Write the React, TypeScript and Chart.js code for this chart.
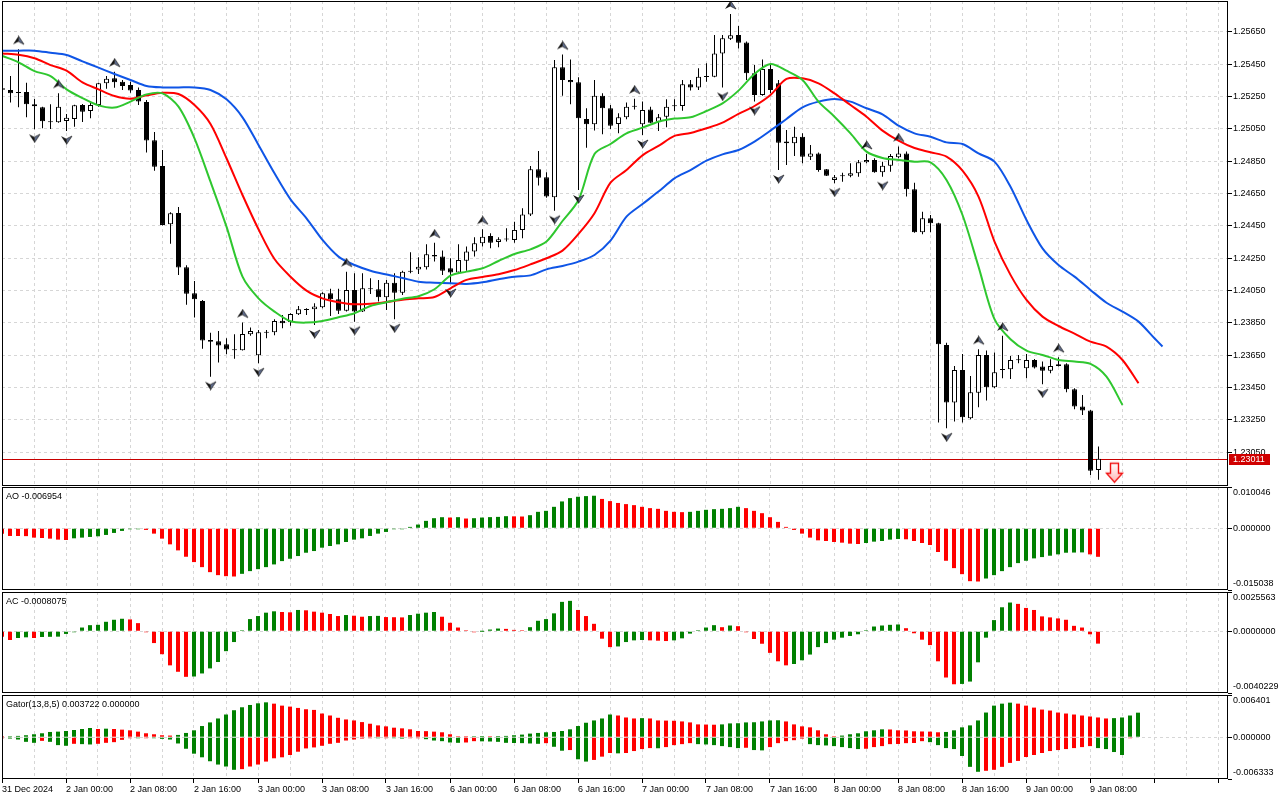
import React, { useEffect, useRef } from 'react';
import { Chart, registerables } from 'chart.js';

Chart.register(...registerables);

// ---------------- data ----------------
const X_LABELS = ['31 Dec 2024', '2 Jan 00:00', '2 Jan 08:00', '2 Jan 16:00', '3 Jan 00:00', '3 Jan 08:00', '3 Jan 16:00', '6 Jan 00:00', '6 Jan 08:00', '6 Jan 16:00', '7 Jan 00:00', '7 Jan 08:00', '7 Jan 16:00', '8 Jan 00:00', '8 Jan 08:00', '8 Jan 16:00', '9 Jan 00:00', '9 Jan 08:00'];
const LABEL_STEP = 8; // bars per time label
const GRID_STEP = 4; // bars per vertical grid line

const OPEN = [
  1.25300, 1.25290, 1.25277, 1.25277, 1.25201, 1.25183, 1.25096, 1.25090, 1.25098, 1.25111,
  1.25197, 1.25160, 1.25197, 1.25331, 1.25362, 1.25341, 1.25321, 1.25290, 1.25216, 1.24979,
  1.24820, 1.24460, 1.24530, 1.24194, 1.24033, 1.23986, 1.23745, 1.23737, 1.23718, 1.23687,
  1.23681, 1.23780, 1.23650, 1.23790, 1.23792, 1.23864, 1.23854, 1.23903, 1.23930, 1.23934,
  1.23947, 1.24033, 1.23996, 1.23926, 1.24054, 1.23920, 1.24064, 1.24058, 1.24009, 1.24099,
  1.24037, 1.24173, 1.24181, 1.24194, 1.24270, 1.24260, 1.24188, 1.24161, 1.24235, 1.24291,
  1.24342, 1.24388, 1.24350, 1.24367, 1.24363, 1.24425, 1.24521, 1.24800, 1.24750, 1.24627,
  1.25430, 1.25352, 1.25337, 1.25111, 1.25078, 1.25255, 1.25177, 1.25080, 1.25121, 1.25193,
  1.25078, 1.25170, 1.25094, 1.25125, 1.25195, 1.25191, 1.25325, 1.25306, 1.25370, 1.25372,
  1.25516, 1.25607, 1.25630, 1.25584, 1.25393, 1.25259, 1.25420, 1.25331, 1.24971, 1.24960,
  1.25001, 1.24878, 1.24898, 1.24800, 1.24734, 1.24760, 1.24760, 1.24775, 1.24843, 1.24857,
  1.24781, 1.24822, 1.24874, 1.24898, 1.24676, 1.24410, 1.24497, 1.24466, 1.23714, 1.23358,
  1.23559, 1.23261, 1.23419, 1.23652, 1.23452, 1.23566, 1.23564, 1.23621, 1.23570, 1.23621,
  1.23580, 1.23555, 1.23584, 1.23594, 1.23440, 1.23333, 1.23308, 1.22941,
];
const HIGH = [
  1.25315, 1.25376, 1.25541, 1.25335, 1.25234, 1.25187, 1.25201, 1.25269, 1.25142, 1.25199,
  1.25203, 1.25218, 1.25335, 1.25376, 1.25403, 1.25352, 1.25341, 1.25306, 1.25228, 1.25030,
  1.24919, 1.24534, 1.24567, 1.24206, 1.24109, 1.23992, 1.23790, 1.23800, 1.23755, 1.23780,
  1.23852, 1.23821, 1.23807, 1.23807, 1.23873, 1.23899, 1.23910, 1.23955, 1.23940, 1.23971,
  1.24039, 1.24062, 1.24062, 1.24167, 1.24157, 1.24157, 1.24126, 1.24116, 1.24116, 1.24157,
  1.24173, 1.24287, 1.24256, 1.24336, 1.24346, 1.24297, 1.24250, 1.24336, 1.24322, 1.24379,
  1.24429, 1.24404, 1.24379, 1.24435, 1.24476, 1.24559, 1.24820, 1.24913, 1.24781, 1.25475,
  1.25510, 1.25479, 1.25368, 1.25177, 1.25352, 1.25269, 1.25197, 1.25146, 1.25212, 1.25236,
  1.25218, 1.25187, 1.25142, 1.25232, 1.25232, 1.25352, 1.25352, 1.25424, 1.25455, 1.25630,
  1.25630, 1.25760, 1.25685, 1.25589, 1.25444, 1.25479, 1.25444, 1.25352, 1.25043, 1.25063,
  1.25022, 1.24950, 1.24903, 1.24802, 1.24765, 1.24779, 1.24837, 1.24857, 1.24894, 1.24868,
  1.24847, 1.24894, 1.24940, 1.24909, 1.24717, 1.24538, 1.24517, 1.24470, 1.23728, 1.23584,
  1.23658, 1.23522, 1.23687, 1.23679, 1.23667, 1.23770, 1.23646, 1.23652, 1.23658, 1.23627,
  1.23611, 1.23625, 1.23638, 1.23601, 1.23446, 1.23405, 1.23312, 1.23086,
];
const LOW = [
  1.25280, 1.25212, 1.25183, 1.25121, 1.25047, 1.25053, 1.25049, 1.25088, 1.25036, 1.25063,
  1.25092, 1.25115, 1.25187, 1.25298, 1.25304, 1.25290, 1.25273, 1.25197, 1.24903, 1.24791,
  1.24453, 1.24340, 1.24147, 1.23963, 1.23883, 1.23691, 1.23518, 1.23605, 1.23656, 1.23629,
  1.23679, 1.23770, 1.23601, 1.23755, 1.23774, 1.23817, 1.23833, 1.23899, 1.23899, 1.23837,
  1.23940, 1.23893, 1.23905, 1.23920, 1.23858, 1.23918, 1.24029, 1.23982, 1.23930, 1.23873,
  1.24023, 1.24157, 1.24153, 1.24181, 1.24229, 1.24147, 1.24091, 1.24153, 1.24173, 1.24260,
  1.24322, 1.24311, 1.24318, 1.24353, 1.24346, 1.24373, 1.24511, 1.24699, 1.24624, 1.24544,
  1.25255, 1.25201, 1.24672, 1.24933, 1.25039, 1.25016, 1.25049, 1.25022, 1.25109, 1.25170,
  1.25012, 1.25084, 1.25036, 1.25059, 1.25160, 1.25162, 1.25286, 1.25290, 1.25341, 1.25368,
  1.25306, 1.25599, 1.25547, 1.25352, 1.25218, 1.25255, 1.25269, 1.24795, 1.24826, 1.24882,
  1.24837, 1.24857, 1.24785, 1.24758, 1.24713, 1.24723, 1.24750, 1.24754, 1.24837, 1.24779,
  1.24754, 1.24785, 1.24868, 1.24631, 1.24408, 1.24398, 1.24410, 1.23234, 1.23199, 1.23240,
  1.23234, 1.23254, 1.23329, 1.23370, 1.23446, 1.23508, 1.23504, 1.23601, 1.23508, 1.23568,
  1.23471, 1.23539, 1.23580, 1.23421, 1.23316, 1.23281, 1.22910, 1.22880,
];
const CLOSE = [
  1.25292, 1.25269, 1.25271, 1.25201, 1.25189, 1.25096, 1.25090, 1.25187, 1.25119, 1.25195,
  1.25156, 1.25197, 1.25331, 1.25360, 1.25337, 1.25315, 1.25286, 1.25218, 1.24977, 1.24816,
  1.24456, 1.24528, 1.24192, 1.24031, 1.23996, 1.23741, 1.23734, 1.23710, 1.23685, 1.23681,
  1.23782, 1.23800, 1.23792, 1.23794, 1.23862, 1.23848, 1.23905, 1.23934, 1.23934, 1.23951,
  1.24033, 1.23996, 1.23926, 1.24054, 1.23920, 1.24064, 1.24058, 1.24009, 1.24099, 1.24037,
  1.24167, 1.24167, 1.24198, 1.24274, 1.24260, 1.24173, 1.24161, 1.24239, 1.24291, 1.24342,
  1.24383, 1.24346, 1.24367, 1.24365, 1.24425, 1.24521, 1.24800, 1.24748, 1.24631, 1.25430,
  1.25352, 1.25337, 1.25115, 1.25078, 1.25255, 1.25177, 1.25069, 1.25121, 1.25187, 1.25187,
  1.25166, 1.25088, 1.25121, 1.25187, 1.25189, 1.25325, 1.25306, 1.25372, 1.25374, 1.25516,
  1.25609, 1.25628, 1.25582, 1.25393, 1.25259, 1.25420, 1.25290, 1.24964, 1.24960, 1.25001,
  1.24878, 1.24898, 1.24795, 1.24760, 1.24750, 1.24756, 1.24775, 1.24843, 1.24857, 1.24781,
  1.24822, 1.24882, 1.24898, 1.24676, 1.24410, 1.24497, 1.24466, 1.23718, 1.23358, 1.23559,
  1.23267, 1.23421, 1.23652, 1.23452, 1.23545, 1.23559, 1.23621, 1.23619, 1.23621, 1.23574,
  1.23555, 1.23584, 1.23594, 1.23440, 1.23333, 1.23308, 1.22937, 1.23011,
];

const FRACTAL_UP = [2, 7, 14, 30, 43, 54, 60, 70, 79, 91, 108, 112, 122, 125, 132];
const FRACTAL_DOWN = [4, 8, 26, 32, 39, 44, 49, 56, 69, 72, 80, 90, 94, 97, 104, 110, 118, 130];

// Alligator lines: [bar index, price]
const JAW: [number, number][] = [
  [0, 1.25533], [2, 1.25533], [4, 1.25533], [6, 1.25520], [8, 1.25506], [10, 1.25467], [12, 1.25428], [14, 1.25389],
  [16, 1.25352], [18, 1.25315], [20, 1.25306], [22, 1.25306], [24, 1.25306], [26, 1.25290], [28, 1.25232], [30, 1.25121],
  [32, 1.24950], [34, 1.24775], [36, 1.24614], [38, 1.24497], [40, 1.24363], [42, 1.24260], [44, 1.24208], [46, 1.24173],
  [48, 1.24149], [50, 1.24128], [52, 1.24105], [54, 1.24099], [56, 1.24095], [58, 1.24091], [60, 1.24101], [62, 1.24120],
  [64, 1.24136], [66, 1.24144], [68, 1.24181], [70, 1.24202], [72, 1.24229], [74, 1.24270], [76, 1.24359], [78, 1.24507],
  [80, 1.24585], [82, 1.24662], [84, 1.24744], [86, 1.24795], [88, 1.24853], [90, 1.24892], [92, 1.24919], [94, 1.24971],
  [96, 1.25039], [98, 1.25111], [100, 1.25183], [102, 1.25218], [104, 1.25234], [106, 1.25218], [108, 1.25177], [110, 1.25139],
  [112, 1.25069], [114, 1.25022], [116, 1.25001], [118, 1.24966], [120, 1.24956], [122, 1.24898], [124, 1.24847], [126, 1.24692],
  [128, 1.24486], [130, 1.24311], [132, 1.24208], [134, 1.24136], [136, 1.24054], [138, 1.23975], [140, 1.23920], [142, 1.23858],
  [144, 1.23755], [145, 1.23704],
];
const TEETH: [number, number][] = [
  [0, 1.25516], [2, 1.25508], [4, 1.25486], [6, 1.25444], [8, 1.25409], [10, 1.25337], [12, 1.25294], [14, 1.25253],
  [16, 1.25236], [18, 1.25257], [20, 1.25273], [22, 1.25265], [24, 1.25197], [26, 1.25080], [28, 1.24868], [30, 1.24641],
  [32, 1.24429], [34, 1.24245], [36, 1.24136], [38, 1.24050], [40, 1.24002], [42, 1.23978], [44, 1.23965], [46, 1.23969],
  [48, 1.23980], [50, 1.23994], [52, 1.24002], [54, 1.24010], [56, 1.24064], [58, 1.24116], [60, 1.24134], [62, 1.24151],
  [64, 1.24177], [66, 1.24212], [68, 1.24250], [70, 1.24297], [72, 1.24400], [74, 1.24528], [76, 1.24717], [78, 1.24795],
  [80, 1.24886], [82, 1.24944], [84, 1.25006], [86, 1.25024], [88, 1.25053], [90, 1.25088], [92, 1.25142], [94, 1.25191],
  [96, 1.25259], [98, 1.25358], [100, 1.25362], [102, 1.25331], [104, 1.25269], [106, 1.25197], [108, 1.25125], [110, 1.25039],
  [112, 1.24977], [114, 1.24931], [116, 1.24905], [118, 1.24878], [120, 1.24791], [122, 1.24631], [124, 1.24353], [126, 1.24147],
  [128, 1.23992], [130, 1.23889], [132, 1.23831], [134, 1.23784], [136, 1.23734], [138, 1.23704], [140, 1.23621], [142, 1.23477],
];
const LIPS: [number, number][] = [
  [0, 1.25500], [2, 1.25461], [4, 1.25407], [6, 1.25376], [8, 1.25294], [10, 1.25240], [12, 1.25195], [14, 1.25181],
  [16, 1.25218], [18, 1.25263], [20, 1.25269], [22, 1.25187], [24, 1.24991], [26, 1.24723], [28, 1.24445], [30, 1.24136],
  [32, 1.24002], [34, 1.23920], [36, 1.23860], [38, 1.23852], [40, 1.23862], [42, 1.23885], [44, 1.23910], [46, 1.23955],
  [48, 1.23978], [50, 1.24000], [52, 1.24015], [54, 1.24058], [56, 1.24142], [58, 1.24167], [60, 1.24188], [62, 1.24233],
  [64, 1.24276], [66, 1.24305], [68, 1.24353], [70, 1.24480], [72, 1.24610], [74, 1.24894], [76, 1.24956], [78, 1.25022],
  [80, 1.25057], [82, 1.25094], [84, 1.25113], [86, 1.25121], [88, 1.25160], [90, 1.25207], [92, 1.25286], [94, 1.25389],
  [96, 1.25450], [98, 1.25409], [100, 1.25352], [102, 1.25218], [104, 1.25125], [106, 1.25022], [108, 1.24909], [110, 1.24870],
  [112, 1.24857], [114, 1.24847], [116, 1.24843], [118, 1.24734], [120, 1.24517], [122, 1.24198], [124, 1.23873], [126, 1.23749],
  [128, 1.23679], [130, 1.23652], [132, 1.23621], [134, 1.23611], [136, 1.23597], [138, 1.23518], [140, 1.23343],
];

const AO = [
  -0.00131, -0.00188, -0.00189, -0.00192, -0.00228, -0.00237, -0.00253, -0.00277, -0.00286, -0.00245,
  -0.00228, -0.00212, -0.00196, -0.00163, -0.00114, -0.00065, -0.00024, -0.00004, -0.00041, -0.00131,
  -0.00253, -0.00392, -0.00539, -0.00694, -0.00824, -0.00947, -0.01069, -0.01142, -0.01167, -0.01175,
  -0.01110, -0.01044, -0.00996, -0.00947, -0.00881, -0.00800, -0.00743, -0.00677, -0.00596, -0.00555,
  -0.00473, -0.00432, -0.00392, -0.00335, -0.00277, -0.00245, -0.00188, -0.00131, -0.00090, -0.00024,
  -0.00012, 0.00033, 0.00090, 0.00180, 0.00245, 0.00269, 0.00261, 0.00270, 0.00237, 0.00245,
  0.00261, 0.00271, 0.00277, 0.00294, 0.00290, 0.00286, 0.00318, 0.00400, 0.00424, 0.00522,
  0.00653, 0.00734, 0.00767, 0.00783, 0.00792, 0.00714, 0.00661, 0.00616, 0.00588, 0.00563,
  0.00522, 0.00490, 0.00473, 0.00424, 0.00400, 0.00392, 0.00400, 0.00424, 0.00449, 0.00465,
  0.00473, 0.00490, 0.00522, 0.00490, 0.00424, 0.00367, 0.00269, 0.00155, 0.00033, -0.00041,
  -0.00131, -0.00228, -0.00294, -0.00310, -0.00335, -0.00351, -0.00375, -0.00384, -0.00359, -0.00326,
  -0.00310, -0.00277, -0.00261, -0.00269, -0.00310, -0.00359, -0.00408, -0.00579, -0.00792, -0.00971,
  -0.01118, -0.01289, -0.01297, -0.01224, -0.01142, -0.01044, -0.00947, -0.00849, -0.00792, -0.00734,
  -0.00702, -0.00669, -0.00636, -0.00596, -0.00592, -0.00588, -0.00636, -0.006954,
];
const AC = [
  -0.000352, -0.000572, -0.000440, -0.000396, -0.000440, -0.000374, -0.000363, -0.000352, -0.000176, -0.000011,
  0.000242, 0.000396, 0.000418, 0.000616, 0.000748, 0.000814, 0.000770, 0.000528, -0.000022, -0.000770,
  -0.001496, -0.002222, -0.002640, -0.002970, -0.002948, -0.002750, -0.002420, -0.002002, -0.001298, -0.000704,
  0.000022, 0.000792, 0.000990, 0.001210, 0.001298, 0.001254, 0.001232, 0.001386, 0.001364, 0.001276,
  0.001210, 0.001122, 0.000990, 0.001056, 0.001012, 0.000946, 0.000990, 0.001001, 0.000924, 0.000913,
  0.000902, 0.001056, 0.001144, 0.001210, 0.001254, 0.000946, 0.000550, 0.000242, 0.000011, -0.000066,
  0.000000, 0.000110, 0.000176, 0.000154, 0.000088, 0.000022, 0.000264, 0.000682, 0.000792, 0.001166,
  0.001914, 0.001980, 0.001386, 0.000990, 0.000484, -0.000484, -0.001034, -0.000990, -0.000704, -0.000594,
  -0.000572, -0.000594, -0.000616, -0.000638, -0.000594, -0.000462, -0.000154, 0.000066, 0.000242, 0.000396,
  0.000264, 0.000374, 0.000330, -0.000022, -0.000506, -0.000814, -0.001408, -0.001958, -0.002222, -0.002134,
  -0.001892, -0.001518, -0.001034, -0.000770, -0.000550, -0.000418, -0.000308, -0.000198, 0.000022, 0.000308,
  0.000374, 0.000418, 0.000440, 0.000198, -0.000132, -0.000550, -0.000902, -0.001958, -0.003014, -0.003454,
  -0.003432, -0.003278, -0.002024, -0.000418, 0.000726, 0.001562, 0.001870, 0.001782, 0.001518, 0.001386,
  0.000968, 0.000902, 0.000836, 0.000748, 0.000352, 0.000242, -0.000198, -0.0008075,
];
const GATOR_UP = [
  0.000100, 0.000150, 0.000200, 0.000299, 0.000449, 0.000599, 0.000798, 0.000848, 0.000948, 0.001098,
  0.001248, 0.001397, 0.001248, 0.001297, 0.001248, 0.001148, 0.001048, 0.000848, 0.000599, 0.000449,
  0.000299, 0.000250, 0.000349, 0.000649, 0.001048, 0.001697, 0.002246, 0.002844, 0.003443, 0.004092,
  0.004541, 0.004890, 0.005140, 0.005289, 0.005090, 0.004790, 0.004641, 0.004441, 0.004242, 0.004142,
  0.003593, 0.003293, 0.002944, 0.002695, 0.002545, 0.002295, 0.002046, 0.001796, 0.001647, 0.001447,
  0.001347, 0.001198, 0.000948, 0.000923, 0.000848, 0.000749, 0.000449, 0.000150, 0.000050, 0.000150,
  0.000175, 0.000150, 0.000175, 0.000200, 0.000299, 0.000399, 0.000549, 0.000649, 0.000749, 0.000798,
  0.000948, 0.001198, 0.001697, 0.002196, 0.002545, 0.002844, 0.003443, 0.003293, 0.002994, 0.002844,
  0.002894, 0.002844, 0.002545, 0.002520, 0.002495, 0.002395, 0.002246, 0.001946, 0.001921, 0.001896,
  0.001946, 0.002096, 0.002121, 0.002246, 0.002270, 0.002395, 0.002545, 0.002570, 0.002395, 0.001946,
  0.001647, 0.001497, 0.001048, 0.000449, 0.000050, 0.000250, 0.000449, 0.000599, 0.000898, 0.001048,
  0.001198, 0.001173, 0.001048, 0.001023, 0.000898, 0.000873, 0.000848, 0.000749, 0.000798, 0.001048,
  0.001497, 0.001796, 0.002545, 0.003743, 0.004790, 0.005090, 0.005240, 0.005090, 0.004790, 0.004491,
  0.004192, 0.004042, 0.003743, 0.003593, 0.003443, 0.003293, 0.003144, 0.002994, 0.002844, 0.002894,
  0.002994, 0.003293, 0.003722,
];
const GATOR_DOWN: (number | null)[] = [
  -0.000050, -0.000200, -0.000349, -0.000699, -0.000848, -0.000549, -0.000699, -0.001198, -0.001297, -0.000998,
  -0.001048, -0.001098, -0.000998, -0.000848, -0.000749, -0.000399, -0.000100, -0.000150, -0.000100, -0.000150,
  -0.000250, -0.000349, -0.000948, -0.001747, -0.002495, -0.003044, -0.003643, -0.004142, -0.004441, -0.004940,
  -0.004840, -0.004441, -0.004142, -0.003693, -0.003194, -0.003044, -0.002695, -0.002196, -0.001697, -0.001547,
  -0.001297, -0.000998, -0.000848, -0.000499, -0.000349, -0.000200, -0.000050, -0.000100, -0.000050, -0.000100,
  -0.000200, -0.000100, -0.000050, -0.000299, -0.000499, -0.000599, -0.000798, -0.000848, -0.000798, -0.000599,
  -0.000624, -0.000649, -0.000699, -0.000848, -0.000873, -0.000898, -0.000948, -0.000998, -0.000898, -0.001447,
  -0.002046, -0.001946, -0.003343, -0.003693, -0.003443, -0.002944, -0.002395, -0.002445, -0.002395, -0.002096,
  -0.001796, -0.001647, -0.001672, -0.001497, -0.001198, -0.001048, -0.000898, -0.001048, -0.001098, -0.001198,
  -0.001347, -0.001497, -0.001647, -0.001597, -0.001946, -0.001996, -0.001497, -0.000898, -0.000599, -0.000449,
  -0.000200, -0.001048, -0.001198, -0.001248, -0.001347, -0.001497, -0.001647, -0.001796, -0.001747, -0.001497,
  -0.001347, -0.001048, -0.001023, -0.000898, -0.000873, -0.000599, -0.000749, -0.001198, -0.001647, -0.001796,
  -0.002844, -0.004491, -0.005240, -0.005090, -0.004940, -0.004491, -0.003892, -0.003593, -0.002994, -0.002695,
  -0.002395, -0.002096, -0.001946, -0.001796, -0.001647, -0.001497, -0.001347, -0.001647, -0.001796, -0.002245,
  -0.002695, -0.000100, null,
];

const PRICE_TICKS = [1.2305, 1.2325, 1.2345, 1.2365, 1.2385, 1.2405, 1.2425, 1.2445, 1.2465, 1.2485, 1.2505, 1.2525, 1.2545, 1.2565];
const PRICE_MIN = 1.22842;
const PRICE_MAX = 1.2584;
const LAST_PRICE = 1.23011;
const SELL_SIGNAL = { index: 139, price: 1.22986 };
const AO_RANGE = [-0.015038, 0.010046];
const AC_RANGE = [-0.0040229, 0.0025563];
const GATOR_RANGE = [-0.006333, 0.006401];
const GATOR_PARAMS = '13,8,5';

// ---------------- styling ----------------
const FONT = "'Liberation Sans', Arial, sans-serif";
const GRID = '#d6d6d6';
const UP = '#008000';
const DOWN = '#ff0000';
const AXIS_W = 52;
const X_AXIS_H = 21;

function fractalCanvas(up: boolean) {
  const c = document.createElement('canvas');
  c.width = 13;
  c.height = 28;
  const ctx = c.getContext('2d')!;
  const tipY = up ? 0.7 : 27.3;
  const wingY = up ? 9 : 19;
  const notchY = up ? 6.2 : 21.8;
  ctx.beginPath();
  ctx.moveTo(6.5, tipY);
  ctx.lineTo(1, wingY);
  ctx.lineTo(6.5, notchY);
  ctx.closePath();
  ctx.fillStyle = '#151515';
  ctx.fill();
  ctx.beginPath();
  ctx.moveTo(6.5, tipY);
  ctx.lineTo(12, wingY);
  ctx.lineTo(6.5, notchY);
  ctx.closePath();
  ctx.fillStyle = '#5d6b8e';
  ctx.fill();
  ctx.strokeStyle = '#2a2a2a';
  ctx.lineWidth = 0.8;
  ctx.stroke();
  return c;
}

function sellArrowCanvas() {
  const c = document.createElement('canvas');
  c.width = 19;
  c.height = 42;
  const ctx = c.getContext('2d')!;
  const top = 21;
  ctx.beginPath();
  ctx.moveTo(5.5, top + 0.5);
  ctx.lineTo(13.5, top + 0.5);
  ctx.lineTo(13.5, top + 10.5);
  ctx.lineTo(17.5, top + 10.5);
  ctx.lineTo(9.5, top + 19.5);
  ctx.lineTo(1.5, top + 10.5);
  ctx.lineTo(5.5, top + 10.5);
  ctx.closePath();
  const g = ctx.createLinearGradient(0, top, 0, top + 20);
  g.addColorStop(0, '#ffffff');
  g.addColorStop(1, '#ffb4b4');
  ctx.fillStyle = g;
  ctx.fill();
  ctx.strokeStyle = '#f01010';
  ctx.lineWidth = 1.4;
  ctx.stroke();
  return c;
}

function makeX(min: number, max: number, withLabels: boolean) {
  return {
    type: 'linear',
    min,
    max,
    offset: false,
    display: true,
    afterBuildTicks: (s: any) => {
      const t: any[] = [];
      for (let v = 0; v <= max; v += GRID_STEP) t.push({ value: v });
      s.ticks = t;
    },
    afterFit: (s: any) => {
      s.height = withLabels ? X_AXIS_H : 0;
      s.paddingLeft = 0;
      s.paddingRight = 0;
    },
    grid: {
      display: true,
      offset: false,
      color: GRID,
      lineWidth: 1,
      drawTicks: withLabels,
      tickLength: 4,
      tickWidth: 1,
      tickColor: (c: any) => (c.tick && c.tick.value % LABEL_STEP === 0 ? '#000' : 'rgba(0,0,0,0)'),
    },
    border: { display: false, dash: [3, 3] },
    ticks: {
      display: withLabels,
      autoSkip: false,
      maxRotation: 0,
      minRotation: 0,
      align: 'start',
      padding: 1,
      color: '#000',
      font: { family: FONT, size: 9 },
      callback: (v: any) => (v % LABEL_STEP === 0 ? X_LABELS[v / LABEL_STEP] || '' : ''),
    },
  };
}

function makeIndicatorY(min: number, max: number) {
  return {
    type: 'linear',
    position: 'right',
    min,
    max,
    beginAtZero: false,
    afterBuildTicks: (s: any) => {
      s.ticks = [{ value: min }, { value: 0 }, { value: max }];
    },
    afterFit: (s: any) => {
      s.width = AXIS_W;
      s.paddingTop = 0;
      s.paddingBottom = 0;
    },
    grid: {
      color: (c: any) => (c.tick && c.tick.value === 0 ? GRID : 'rgba(0,0,0,0)'),
      drawTicks: true,
      tickLength: 4,
      tickColor: '#000',
    },
    border: { display: false, dash: [3, 3] },
    ticks: { display: false, autoSkip: false },
  };
}

const framePlugin = {
  id: 'paneFrame',
  afterDraw(chart: any) {
    const { ctx, chartArea: a } = chart;
    ctx.save();
    ctx.strokeStyle = '#000';
    ctx.lineWidth = 1;
    ctx.strokeRect(a.left + 0.5, a.top + 0.5, a.right - a.left - 1, a.bottom - a.top - 1);
    ctx.restore();
  },
};

function indicatorLabels(title: string, decimals: number) {
  return {
    id: 'indicatorLabels',
    afterDraw(chart: any) {
      const { ctx, chartArea: a } = chart;
      const y = chart.scales.y;
      ctx.save();
      ctx.font = `9px ${FONT}`;
      ctx.fillStyle = '#000';
      ctx.textAlign = 'left';
      ctx.textBaseline = 'middle';
      ctx.fillText(title, a.left + 4, a.top + 9.5);
      const x = a.right + 5;
      ctx.fillText(y.max.toFixed(decimals), x, a.top + 6);
      ctx.fillText((0).toFixed(decimals), x, y.getPixelForValue(0));
      ctx.fillText(y.min.toFixed(decimals), x, a.bottom - 6.5);
      ctx.restore();
    },
  };
}

const priceLinePlugin = {
  id: 'priceLine',
  beforeDatasetsDraw(chart: any) {
    const { ctx, chartArea: a } = chart;
    const y = Math.round(chart.scales.y.getPixelForValue(LAST_PRICE)) + 0.5;
    ctx.save();
    ctx.strokeStyle = '#c80000';
    ctx.lineWidth = 1;
    ctx.beginPath();
    ctx.moveTo(a.left, y);
    ctx.lineTo(a.right, y);
    ctx.stroke();
    ctx.restore();
  },
  afterDraw(chart: any) {
    const { ctx, chartArea: a } = chart;
    const y = Math.round(chart.scales.y.getPixelForValue(LAST_PRICE));
    ctx.save();
    ctx.fillStyle = '#d00000';
    ctx.fillRect(a.right + 1, y - 5, 41, 11);
    ctx.font = `9px ${FONT}`;
    ctx.fillStyle = '#fff';
    ctx.textAlign = 'left';
    ctx.textBaseline = 'middle';
    ctx.fillText(LAST_PRICE.toFixed(5), a.right + 5, y + 0.5);
    ctx.restore();
  },
};

const baseOptions = (padding: any) => ({
  responsive: true,
  maintainAspectRatio: false,
  animation: false,
  events: [],
  layout: { padding, autoPadding: false },
  plugins: { legend: { display: false }, tooltip: { enabled: false }, title: { display: false } },
});

function histColors(values: (number | null)[], magnitude: boolean) {
  return values.map((v, i) => {
    const p = i > 0 ? values[i - 1] : null;
    if (v == null || p == null) return DOWN;
    return (magnitude ? Math.abs(v) > Math.abs(p) : v > p) ? UP : DOWN;
  });
}

function histDataset(values: (number | null)[], magnitude: boolean) {
  return {
    type: 'bar',
    data: values.map((v, i) => ({ x: i, y: v })),
    backgroundColor: histColors(values, magnitude),
    barThickness: 4,
    grouped: false,
    minBarLength: 1,
    inflateAmount: 0,
    borderWidth: 0,
  };
}

function mainConfig(): any {
  const bodyColors = OPEN.map((o, i) => {
    const c = CLOSE[i];
    if (Math.abs(c - o) < 0.00006) return '#000';
    return c > o ? '#fff' : '#000';
  });
  const line = (pts: [number, number][], color: string) => ({
    type: 'line',
    data: pts.map(([x, y]) => ({ x, y })),
    borderColor: color,
    borderWidth: 2,
    pointRadius: 0,
    tension: 0.3,
    fill: false,
  });
  return {
    type: 'bar',
    data: {
      datasets: [
        {
          type: 'line',
          data: FRACTAL_UP.map((i) => ({ x: i, y: HIGH[i] })),
          showLine: false,
          pointStyle: fractalCanvas(true),
          pointRadius: 6,
        },
        {
          type: 'line',
          data: FRACTAL_DOWN.map((i) => ({ x: i, y: LOW[i] })),
          showLine: false,
          pointStyle: fractalCanvas(false),
          pointRadius: 6,
        },
        {
          type: 'line',
          data: [{ x: SELL_SIGNAL.index, y: SELL_SIGNAL.price }],
          showLine: false,
          pointStyle: sellArrowCanvas(),
          pointRadius: 8,
        },
        line(LIPS, '#2fc72f'),
        line(TEETH, '#ff0000'),
        line(JAW, '#0f55e6'),
        {
          type: 'bar',
          data: OPEN.map((o, i) => ({ x: i, y: [o, CLOSE[i]] })),
          backgroundColor: bodyColors,
          borderColor: '#000',
          borderWidth: 1,
          borderSkipped: false,
          barThickness: 5,
          grouped: false,
          minBarLength: 1,
          inflateAmount: 0,
        },
        {
          type: 'bar',
          data: LOW.map((l, i) => ({ x: i, y: [l, HIGH[i]] })),
          backgroundColor: '#000',
          barThickness: 1,
          grouped: false,
          inflateAmount: 0,
          borderWidth: 0,
        },
      ],
    },
    options: {
      ...baseOptions({ left: 2, right: 0, top: 1, bottom: 1 }),
      scales: {
        x: makeX(-0.0625, 153.1875, false),
        y: {
          type: 'linear',
          position: 'right',
          min: PRICE_MIN,
          max: PRICE_MAX,
          beginAtZero: false,
          afterBuildTicks: (s: any) => {
            s.ticks = PRICE_TICKS.map((v) => ({ value: v }));
          },
          afterFit: (s: any) => {
            s.width = AXIS_W;
            s.paddingTop = 0;
            s.paddingBottom = 0;
          },
          grid: { color: GRID, drawTicks: true, tickLength: 4, tickColor: '#000' },
          border: { display: false, dash: [3, 3] },
          ticks: {
            autoSkip: false,
            padding: 1,
            color: '#000',
            font: { family: FONT, size: 9 },
            callback: (v: any) => Number(v).toFixed(5),
          },
        },
      },
    },
    plugins: [priceLinePlugin, framePlugin],
  };
}

function indicatorConfig(
  datasets: any[],
  range: number[],
  title: string,
  decimals: number,
  padding: any,
  withLabels: boolean
): any {
  return {
    type: 'bar',
    data: { datasets },
    options: {
      ...baseOptions(padding),
      scales: {
        x: makeX(0, 153.25, withLabels),
        y: makeIndicatorY(range[0], range[1]),
      },
    },
    plugins: [framePlugin, indicatorLabels(title, decimals)],
  };
}

export default function App() {
  const mainRef = useRef<HTMLCanvasElement | null>(null);
  const aoRef = useRef<HTMLCanvasElement | null>(null);
  const acRef = useRef<HTMLCanvasElement | null>(null);
  const gatorRef = useRef<HTMLCanvasElement | null>(null);

  useEffect(() => {
    Chart.defaults.font.family = FONT;
    Chart.defaults.font.size = 9;
    const lastDown = GATOR_DOWN[GATOR_DOWN.length - 1] ?? 0;
    const charts = [
      new Chart(mainRef.current as any, mainConfig()),
      new Chart(
        aoRef.current as any,
        indicatorConfig([histDataset(AO, false)], AO_RANGE, `AO ${AO[AO.length - 1].toFixed(6)}`, 6, { left: 2, right: 0, top: 1, bottom: 1 }, false)
      ),
      new Chart(
        acRef.current as any,
        indicatorConfig([histDataset(AC, false)], AC_RANGE, `AC ${AC[AC.length - 1].toFixed(7)}`, 7, { left: 2, right: 0, top: 2, bottom: 1 }, false)
      ),
      new Chart(
        gatorRef.current as any,
        indicatorConfig(
          [histDataset(GATOR_UP, true), histDataset(GATOR_DOWN, true)],
          GATOR_RANGE,
          `Gator(${GATOR_PARAMS}) ${GATOR_UP[GATOR_UP.length - 1].toFixed(6)} ${Math.abs(lastDown).toFixed(6)}`,
          6,
          { left: 2, right: 0, top: 1, bottom: 0 },
          true
        )
      ),
    ];
    return () => charts.forEach((c) => c.destroy());
  }, []);

  const pane = (top: number, height: number): React.CSSProperties => ({
    position: 'absolute',
    left: 0,
    top,
    width: 1280,
    height,
  });

  return (
    <div style={{ position: 'absolute', left: 0, top: 0, width: 1280, height: 800, background: '#fff', overflow: 'hidden' }}>
      <div style={pane(0, 487)}>
        <canvas ref={mainRef} />
      </div>
      <div style={pane(486, 105)}>
        <canvas ref={aoRef} />
      </div>
      <div style={pane(590, 104)}>
        <canvas ref={acRef} />
      </div>
      <div style={pane(694, 106)}>
        <canvas ref={gatorRef} />
      </div>
    </div>
  );
}
